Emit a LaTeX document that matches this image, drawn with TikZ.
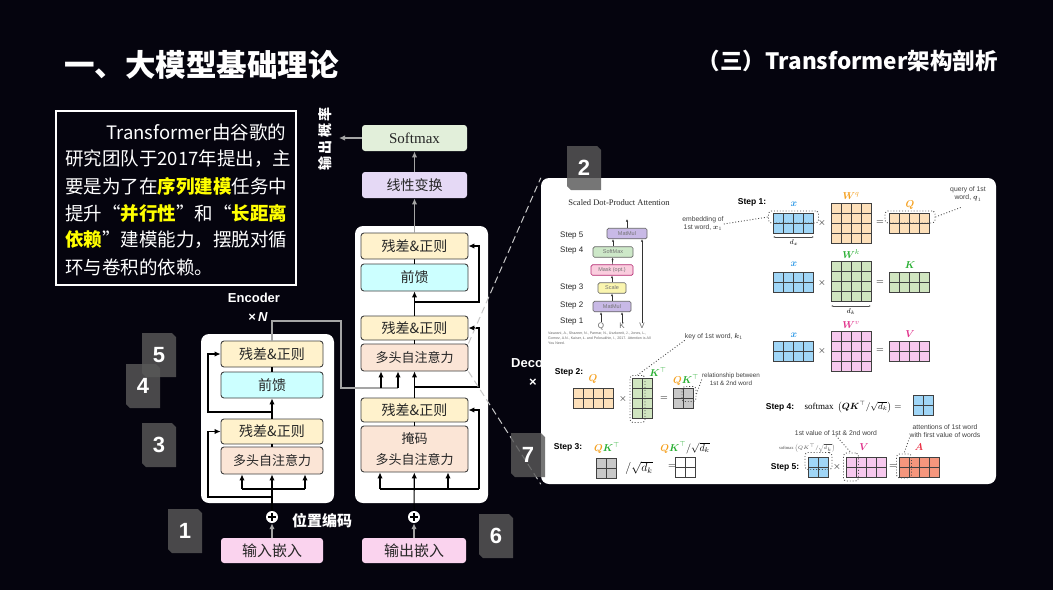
\documentclass[tikz,border=0pt]{standalone}
\usepackage{amsmath,amssymb}
\usepackage{fontspec}
\setmainfont{Liberation Sans}
\newfontfamily\cjk{Noto Sans CJK SC}
\newfontfamily\serifrm{Liberation Serif}
\usepackage{xcolor}
\usepackage{tikz}
\usetikzlibrary{arrows.meta,positioning}

\definecolor{bgblack}{RGB}{5,4,14}
\definecolor{addfill}{RGB}{255,242,204}
\definecolor{fffill}{RGB}{204,255,255}
\definecolor{attfill}{RGB}{251,229,214}
\definecolor{linfill}{RGB}{229,217,245}
\definecolor{smfill}{RGB}{226,239,218}
\definecolor{embfill}{RGB}{250,211,238}
\definecolor{wiregray}{RGB}{165,165,165}
\definecolor{dashgray}{RGB}{200,200,200}
\definecolor{badgegray}{RGB}{88,88,88}
\definecolor{hlyellow}{RGB}{255,255,0}
\definecolor{cblue}{RGB}{160,214,247}
\definecolor{corange}{RGB}{253,224,186}
\definecolor{cgreen}{RGB}{208,229,192}
\definecolor{cpink}{RGB}{247,200,238}
\definecolor{cgray}{RGB}{200,200,200}
\definecolor{csalmon}{RGB}{245,150,125}
\definecolor{lblue}{RGB}{40,150,230}
\definecolor{lorange}{RGB}{245,160,30}
\definecolor{lgreen}{RGB}{40,175,50}
\definecolor{lpink}{RGB}{225,50,140}
\definecolor{lred}{RGB}{235,50,70}
\definecolor{mmfill}{RGB}{200,185,230}
\definecolor{sxfill}{RGB}{205,232,200}
\definecolor{mkfill}{RGB}{250,205,222}
\definecolor{scfill}{RGB}{250,245,175}

\newcommand\hiword[1]{\textcolor{hlyellow}{\bfseries #1}}
% grid of cells: x, y (top left), columns, rows, fill
\newcommand\cellmat[5]{%
  \draw[draw=black!75, line width=0.9pt, fill=#5] (#1,#2) rectangle ++({#3*10.2},{#4*10.2});
  \foreach \k in {1,...,#3}{\ifnum\k<#3\relax\draw[draw=black!75, line width=0.9pt] ({#1+\k*10.2},#2) -- ++(0,{#4*10.2});\fi}
  \foreach \k in {1,...,#4}{\ifnum\k<#4\relax\draw[draw=black!75, line width=0.9pt] (#1,{#2+\k*10.2}) -- ++({#3*10.2},0);\fi}
}
% numbered tag: name, x, y (top left), number
\newcommand\badge[4]{%
  \fill[badgegray, opacity=0.82] (#2,#3) -- ++(30,0) -- ++(4,4) -- ++(0,40) -- ++(-30,0) -- ++(-4,-4) -- cycle;
  \node[badgetxt] (#1) at ({#2+17},{#3+22}) {#4};
}
\newcommand\smx{\text{\serifrm softmax}}

\begin{document}
\begin{tikzpicture}[x=1pt, y=-1pt,
    >={Latex[length=6pt,width=5.5pt]},
    layer/.style={rectangle, draw=black!75, line width=0.9pt, rounded corners=3pt, inner sep=0pt, minimum width=102pt, minimum height=26pt, text=black!85, font=\cjk\fontsize{14}{16}\selectfont},
    addnorm/.style={layer, fill=addfill},
    ffwd/.style={layer, fill=fffill},
    attn/.style={layer, fill=attfill, font=\cjk\fontsize{13}{16}\selectfont},
    plain/.style={layer, draw=none, minimum width=105pt},
    embed/.style={plain, fill=embfill, minimum height=25pt, font=\cjk\fontsize{15}{16}\selectfont},
    block/.style={rectangle, fill=white, rounded corners=8pt, inner sep=0pt},
    wire/.style={black, line width=1.1pt},
    graywire/.style={wiregray, line width=1.4pt},
    plus/.style={circle, fill=white, minimum size=12pt, inner sep=0pt},
    txt/.style={text=white, inner sep=0pt, font=\cjk\fontsize{18.5}{20}\selectfont},
    enclbl/.style={text=white, inner sep=0pt, font=\bfseries\fontsize{13}{14}\selectfont},
    badgetxt/.style={text=white, inner sep=0pt, font=\bfseries\fontsize{22}{24}\selectfont},
    sbox/.style={rectangle, draw=black!60, line width=0.7pt, rounded corners=1.5pt, inner sep=0pt, minimum height=10.5pt, text=black!55, font=\fontsize{5.5}{6}\selectfont},
    steplbl/.style={inner sep=0pt, text=black!85, font=\fontsize{8}{9}\selectfont},
    stepb/.style={inner sep=0pt, text=black, font=\bfseries\fontsize{8.5}{9}\selectfont},
    note/.style={inner sep=0pt, text=black!75, align=center, font=\fontsize{6.8}{8}\selectfont},
    mlbl/.style={inner sep=0pt, font=\fontsize{10}{11}\selectfont},
    dotbox/.style={draw=black!70, dotted, line width=0.9pt, rounded corners=3pt, inner sep=0pt},
    dotline/.style={black!70, dotted, line width=0.9pt},
    tinyarrow/.style={black!80, line width=0.6pt, -{Latex[length=2.5pt,width=2.2pt]}}]

    \useasboundingbox (0,0) rectangle (1053,590);
    \fill[bgblack] (0,0) rectangle (1053,590);

    % titles
    \node[text=white, inner sep=0pt, anchor=west, font=\cjk\bfseries\fontsize{30.5}{32}\selectfont] (title) at (64,65) {一、大模型基础理论};
    \node[text=white, inner sep=0pt, anchor=east, font=\cjk\bfseries\fontsize{22.5}{24}\selectfont] (subtitle) at (998,61) {（三）Transformer架构剖析};

    % intro text
    \node[draw=white, line width=1.3pt, minimum width=240pt, minimum height=174pt, inner sep=0pt] (intro) at (176,198) {};
    \node[txt, anchor=west] (l1) at (106,132) {Transformer由谷歌的};
    \node[txt, anchor=west] (l2) at (65,159) {研究团队于2017年提出，主};
    \node[txt, anchor=west] (l3) at (65,186) {要是为了在\hiword{序列建模}任务中};
    \node[txt, anchor=west] (l4) at (65,213) {提升“\hiword{并行性}”和“\hiword{长距离}};
    \node[txt, anchor=west] (l5) at (65,240) {\hiword{依赖}”建模能力，摆脱对循};
    \node[txt, anchor=west] (l6) at (65,267) {环与卷积的依赖。};

    % encoder
    \node[block, minimum width=133pt, minimum height=169pt] (encbg) at (267.5,418.5) {};
    \node[addnorm] (eadd2) at (272,354) {残差\&正则};
    \node[ffwd] (eff) at (272,385) {前馈};
    \node[addnorm, minimum height=25pt] (eadd1) at (272,431.5) {残差\&正则};
    \node[attn, minimum height=27pt] (emha) at (272,460.5) {多头自注意力};
    \node[embed, minimum width=102pt] (einput) at (272,550.5) {输入嵌入};
    \node[plus] (eplus) at (272,517) {};

    % decoder
    \node[block, minimum width=133pt, minimum height=277pt] (decbg) at (421.5,364.5) {};
    \node[addnorm, minimum width=107pt] (dadd3) at (414.5,246) {残差\&正则};
    \node[ffwd, minimum width=107pt, minimum height=27pt] (dff) at (414.5,277.5) {前馈};
    \node[addnorm, minimum width=107pt, minimum height=24pt] (dadd2) at (414.5,328) {残差\&正则};
    \node[attn, minimum width=107pt, minimum height=27pt] (dmha) at (414.5,357.5) {多头自注意力};
    \node[addnorm, minimum width=107pt, minimum height=24pt] (dadd1) at (414.5,410) {残差\&正则};
    \node[attn, minimum width=107pt, minimum height=46pt, align=center, font=\cjk\fontsize{13}{21}\selectfont] (dmmha) at (414.5,449) {掩码\\多头自注意力};
    \node[embed, minimum width=104pt] (doutput) at (414,550.5) {输出嵌入};
    \node[plus] (dplus) at (414,517) {};
    \node[plain, fill=linfill, minimum height=26pt] (linear) at (414.5,185) {线性变换};
    \node[plain, fill=smfill, minimum height=26pt, font=\serifrm\fontsize{15}{16}\selectfont] (softmax) at (414.5,138) {Softmax};

    % plus signs
    \foreach \p in {eplus,dplus}{
      \draw[black, line width=1.5pt] ([yshift=-2.5pt]\p.north) -- ([yshift=2.5pt]\p.south);
      \draw[black, line width=1.5pt] ([xshift=2.5pt]\p.west) -- ([xshift=-2.5pt]\p.east);
    }

    % encoder wires
    \coordinate (eb1) at (242,489);
    \coordinate (eb2) at (305,489);
    \coordinate (er1) at (272,497);
    \coordinate (el1) at (208,497);
    \coordinate (er2) at (272,412);
    \coordinate (el2) at (208,412);
    \draw[wire, ->] (eplus) -- (emha);
    \draw[wire] (eb1) -- (eb2);
    \draw[wire, ->] (eb1) -- (eb1 |- emha.south);
    \draw[wire, ->] (eb2) -- (eb2 |- emha.south);
    \draw[wire, ->] (er1) -- (el1) |- (eadd1.west);
    \draw[wire] (emha) -- (eadd1);
    \draw[wire, ->] (eadd1) -- (eff);
    \draw[wire, ->] (er2) -- (el2) |- (eadd2.west);
    \draw[wire] (eff) -- (eadd2);

    % encoder output into decoder
    \coordinate (eo1) at (272,321);
    \coordinate (eo2) at (341,321);
    \coordinate (eo3) at (341,388);
    \coordinate (eo4) at (398,388);
    \coordinate (eo5) at (381,388);
    \draw[graywire] (eadd2.north) -- (eo1) -- (eo2) -- (eo3) -- (eo4);
    \draw[wire, ->] (eo5) -- (eo5 |- dmha.south);
    \draw[wire, ->] (eo4) -- (eo4 |- dmha.south);

    % decoder wires
    \coordinate (db1) at (380,489);
    \coordinate (db2) at (448,489);
    \coordinate (db3) at (479,489);
    \coordinate (dr2) at (414,387);
    \coordinate (dr2e) at (479,387);
    \coordinate (dr3) at (414,302);
    \coordinate (dr3e) at (479,302);
    \draw[wire, ->] (dplus) -- (dmmha);
    \draw[wire] (db1) -- (db3);
    \draw[wire, ->] (db1) -- (db1 |- dmmha.south);
    \draw[wire, ->] (db2) -- (db2 |- dmmha.south);
    \draw[wire, ->] (db3) |- (dadd1.east);
    \draw[wire] (dmmha) -- (dadd1);
    \draw[wire, ->] (dadd1) -- (dmha);
    \draw[wire, ->] (dr2) -- (dr2e) |- (dadd2.east);
    \draw[wire] (dmha) -- (dadd2);
    \draw[wire, ->] (dadd2) -- (dff);
    \draw[wire, ->] (dr3) -- (dr3e) |- (dadd3.east);
    \draw[wire] (dff) -- (dadd3);

    % gray arrows
    \coordinate (probout) at (339,138);
    \draw[graywire, ->] (dadd3) -- (linear);
    \draw[graywire, ->] (linear) -- (softmax);
    \draw[graywire, ->] (softmax) -- (probout);
    \draw[graywire, ->] (einput) -- (eplus);
    \draw[graywire, ->] (doutput) -- (dplus);

    % labels
    \node[text=white, inner sep=0pt, rotate=90, font=\cjk\bfseries\fontsize{14}{15}\selectfont] (prob) at (325,139) {输\,出\,概\,率};
    \node[text=white, inner sep=0pt, font=\cjk\bfseries\fontsize{15}{16}\selectfont] (posenc) at (322,521) {位置编码};
    \node[enclbl] (enc) at (254,298) {Encoder};
    \node[enclbl] (encn) at (258,317) {×\,\textit{N}};
    \begin{scope}
      \clip (500,340) rectangle (541,400);
      \node[enclbl, anchor=west] (dec) at (511,363) {Deco};
      \node[enclbl, anchor=west] (decn) at (529,383) {×};
    \end{scope}

    % zoom lines and attention panel
    \node[block, minimum width=455pt, minimum height=306pt] (panel) at (768.5,331) {};
    \draw[dashgray, dashed, dash pattern=on 7pt off 4pt, line width=1pt] (dmha.north east) -- (panel.north west);
    \draw[dashgray, dashed, dash pattern=on 7pt off 4pt, line width=1pt] (dmha.south east) -- (panel.south west);

    % panel: scaled dot-product attention
    \node[inner sep=0pt, text=black!85, font=\serifrm\fontsize{8.5}{9}\selectfont] (sdpa) at (619,203) {Scaled Dot-Product Attention};
    \node[steplbl, anchor=west] (st5) at (560,236) {Step 5};
    \node[steplbl, anchor=west] (st4) at (560,251) {Step 4};
    \node[steplbl, anchor=west] (st3) at (560,288) {Step 3};
    \node[steplbl, anchor=west] (st2) at (560,306) {Step 2};
    \node[steplbl, anchor=west] (st1) at (560,322) {Step 1};
    \node[sbox, fill=mmfill, minimum width=40pt] (mm2) at (627,233.5) {MatMul};
    \node[sbox, fill=sxfill, minimum width=40pt] (smx) at (613,252) {SoftMax};
    \node[sbox, fill=mkfill, draw=lpink!80!black, minimum width=42pt] (msk) at (612,270) {Mask (opt.)};
    \node[sbox, fill=scfill, minimum width=28pt] (scl) at (612,288) {Scale};
    \node[sbox, fill=mmfill, minimum width=38pt] (mm1) at (612,306.5) {MatMul};
    \node[steplbl, text=black!60] (qin) at (601,326) {Q};
    \node[steplbl, text=black!60] (kin) at (622,326) {K};
    \node[steplbl, text=black!60] (vin) at (642,326) {V};
    \coordinate (attout) at (627,219);
    \draw[tinyarrow] (qin.north) -- (qin.north |- mm1.south);
    \draw[tinyarrow] (kin.north) -- (kin.north |- mm1.south);
    \draw[tinyarrow] (vin.north) -- (vin.north |- mm2.south);
    \draw[tinyarrow] (mm1) -- (scl);
    \draw[tinyarrow] (scl) -- (msk);
    \draw[tinyarrow] (msk) -- (smx);
    \draw[tinyarrow] (smx.north) -- (smx.north |- mm2.south);
    \draw[tinyarrow] (mm2) -- (attout);
    \node[inner sep=0pt, anchor=north west, align=left, text=black!60, font=\fontsize{3.6}{4.6}\selectfont] (cite) at (548,332) {Vaswani, A., Shazeer, N., Parmar, N., Uszkoreit, J., Jones, L.,\\Gomez, A.N., Kaiser, Ł. and Polosukhin, I., 2017. Attention is All\\You Need.};

    % step 1
    \node[stepb] (s1) at (752,202) {Step 1:};
    \node[note] (emb) at (703,224) {embedding of\\1st word, $\boldsymbol{x}_1$};
    \cellmat{773}{213}{4}{2}{cblue}
    \cellmat{831}{203}{4}{4}{corange}
    \cellmat{889}{213}{4}{2}{corange}
    \node[dotbox, minimum width=50pt, minimum height=12pt] (xrow) at (793.5,217) {};
    \node[dotbox, minimum width=50pt, minimum height=12pt] (qrow) at (910,217) {};
    \draw[dotline] (emb.east) -- (xrow.west);
    \node[note] (qn) at (968,194) {query of 1st\\word, $\boldsymbol{q}_1$};
    \coordinate (qnp) at (962,207);
    \draw[dotline] (qrow.east) -- (qnp);
    \node[mlbl, text=lblue] (lx1) at (794,204) {$\boldsymbol{x}$};
    \node[mlbl, text=lorange] (lwq) at (851,196) {$\boldsymbol{W}^{q}$};
    \node[mlbl, text=lorange] (lq) at (910,205) {$\boldsymbol{Q}$};
    \node[mlbl] (m1) at (822,223) {$\times$};
    \node[mlbl] (q1) at (880,223) {$=$};
    \draw[black!70, line width=0.6pt, {Latex[length=2pt]}-{Latex[length=2pt]}] (773,237) -- (814,237);
    \node[mlbl, font=\fontsize{7}{8}\selectfont] (ldx) at (794,243) {$d_x$};

    \cellmat{773}{272}{4}{2}{cblue}
    \cellmat{831}{261}{4}{4}{cgreen}
    \cellmat{889}{272}{4}{2}{cgreen}
    \node[mlbl, text=lblue] (lx2) at (794,264) {$\boldsymbol{x}$};
    \node[mlbl, text=lgreen] (lwk) at (851,254) {$\boldsymbol{W}^{k}$};
    \node[mlbl, text=lgreen] (lk) at (910,265) {$\boldsymbol{K}$};
    \node[mlbl] (m2) at (822,283) {$\times$};
    \node[mlbl] (q2) at (880,283) {$=$};
    \draw[black!70, line width=0.6pt, {Latex[length=2pt]}-{Latex[length=2pt]}] (831,306) -- (871,306);
    \node[mlbl, font=\fontsize{7}{8}\selectfont] (ldk) at (851,312) {$d_k$};

    \cellmat{773}{341}{4}{2}{cblue}
    \cellmat{831}{331}{4}{4}{cpink}
    \cellmat{889}{341}{4}{2}{cpink}
    \node[mlbl, text=lblue] (lx3) at (794,335) {$\boldsymbol{x}$};
    \node[mlbl, text=lpink] (lwv) at (851,325) {$\boldsymbol{W}^{v}$};
    \node[mlbl, text=lpink] (lv) at (910,334) {$\boldsymbol{V}$};
    \node[mlbl] (m3) at (822,351) {$\times$};
    \node[mlbl] (q3) at (880,351) {$=$};

    % step 2
    \node[stepb] (s2) at (569,372) {Step 2:};
    \cellmat{573}{388}{4}{2}{corange}
    \node[mlbl, text=lorange] (lq2) at (593,379) {$\boldsymbol{Q}$};
    \node[mlbl] (m4) at (623,399) {$\times$};
    \cellmat{632}{378}{2}{4}{cgreen}
    \node[dotbox, minimum width=15pt, minimum height=47pt] (kcol) at (637.5,399) {};
    \node[mlbl, text=lgreen] (lkt) at (658,372) {$\boldsymbol{K}^{\top}$};
    \node[note] (kn) at (714,337) {key of 1st word, $\boldsymbol{k}_1$};
    \draw[dotline] (kn.south west) -- (kcol.north);
    \node[mlbl] (q4) at (664,399) {$=$};
    \cellmat{673}{388}{2}{2}{cgray}
    \node[mlbl] (lqk) at (686,380) {$\textcolor{lorange}{\boldsymbol{Q}}\textcolor{lgreen}{\boldsymbol{K}^{\top}}$};
    \node[dotbox, minimum width=14pt, minimum height=15pt] (qkcell) at (689,394) {};
    \node[note, font=\fontsize{6.3}{7.5}\selectfont] (rn) at (731,379) {relationship between\\1st \& 2nd word};
    \draw[dotline] (qkcell.east) -- (rn.west);

    % step 3
    \node[stepb] (s3) at (568,447) {Step 3:};
    \cellmat{596}{458}{2}{2}{cgray}
    \node[mlbl] (lqk3) at (607,448) {$\textcolor{lorange}{\boldsymbol{Q}}\textcolor{lgreen}{\boldsymbol{K}^{\top}}$};
    \node[mlbl, font=\fontsize{12}{13}\selectfont] (div) at (639,468) {$/\sqrt{d_k}$};
    \node[mlbl] (q5) at (672,467) {$=$};
    \cellmat{675}{457}{2}{2}{white}
    \node[mlbl] (lsc) at (685,448) {$\textcolor{lorange}{\boldsymbol{Q}}\textcolor{lgreen}{\boldsymbol{K}^{\top}}/\sqrt{d_k}$};

    % step 4
    \node[stepb] (s4) at (780,407) {Step 4:};
    \node[mlbl, font=\fontsize{9}{10}\selectfont] (sm4) at (853,407) {$\smx\;\left(\boldsymbol{QK}^{\top}/\sqrt{d_k}\right)=$};
    \cellmat{913}{395}{2}{2}{cblue}

    % step 5
    \node[note] (v5n) at (836,433) {1st value of 1st \& 2nd word};
    \node[note] (a5n) at (945,431) {attentions of 1st word\\with first value of words};
    \node[mlbl, font=\fontsize{4.5}{5}\selectfont, text=black!70] (sm5) at (807,448) {$\smx\left(QK^{\top}/\sqrt{d_k}\right)$};
    \node[stepb] (s5) at (785,467) {Step 5:};
    \cellmat{808}{457}{2}{2}{cblue}
    \node[dotbox, minimum width=27pt, minimum height=17pt] (sarow) at (818.5,461) {};
    \node[mlbl] (m5) at (837,467) {$\times$};
    \cellmat{846}{457}{4}{2}{cpink}
    \node[dotbox, minimum width=15pt, minimum height=28pt] (vcol) at (851,467) {};
    \node[mlbl, text=lpink] (lv5) at (864,447) {$\boldsymbol{V}$};
    \node[mlbl] (q6) at (893,467) {$=$};
    \cellmat{899}{457}{4}{2}{csalmon}
    \node[dotbox, minimum width=15pt, minimum height=24pt] (acol) at (904,466) {};
    \node[mlbl, text=lred] (la5) at (919,447) {$\boldsymbol{A}$};
    \draw[dotline] (v5n.south) -- (vcol.north);
    \draw[dotline] (a5n.south west) -- (acol.north);

    % number tags
    \badge{b5}{142}{333}{5}
    \badge{b4}{126}{364}{4}
    \badge{b3}{142}{423}{3}
    \badge{b1}{168}{509}{1}
    \badge{b6}{479}{514}{6}
    \badge{b2}{567}{146}{2}
    \badge{b7}{511}{433}{7}
\end{tikzpicture}
\end{document}
